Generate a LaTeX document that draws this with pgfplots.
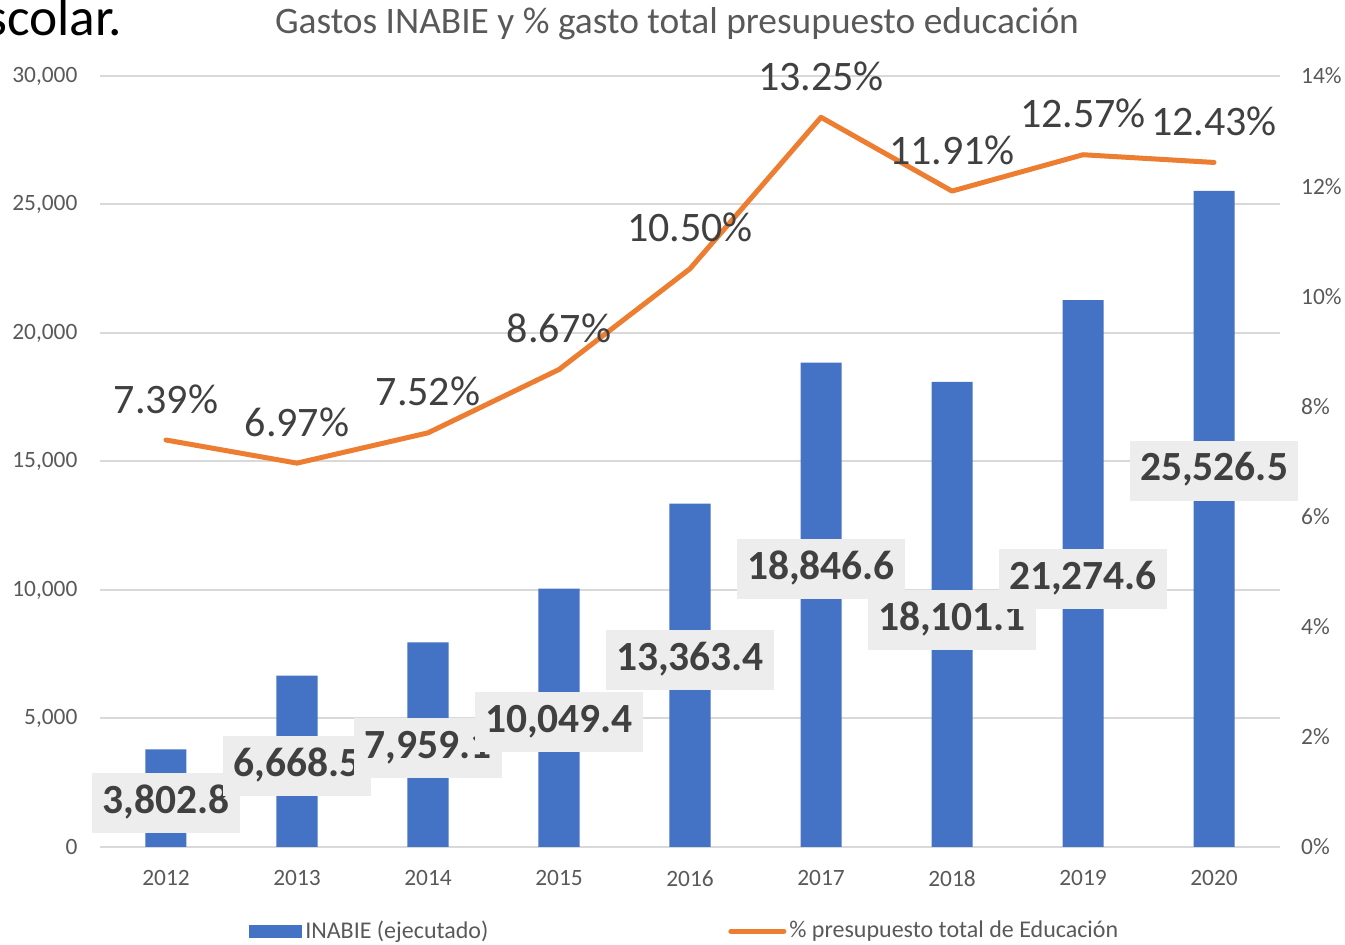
\documentclass[border=0pt]{standalone}
\usepackage{fontspec}
\setmainfont{Carlito}
\usepackage{pgfplots}
\pgfplotsset{compat=1.18}
\definecolor{barblue}{HTML}{4472C4}
\definecolor{lineorange}{HTML}{ED7D31}
\definecolor{gridgray}{HTML}{D9D9D9}
\definecolor{ticktext}{HTML}{595959}
\definecolor{labeltext}{HTML}{404040}
\definecolor{labelbox}{HTML}{EDEDED}

\pgfplotstableread{
x y
0 3802.8
1 6668.5
2 7959.1
3 10049.4
4 13363.4
5 18846.6
6 18101.1
7 21274.6
8 25526.5
}\bardata

% label positions (centre of each value box, in axis units)
\pgfplotstableread{
x y lbl
0 1710 3,802.8
1 3150 6,668.5
2 3850 7,959.1
3 4860 10,049.4
4 7270 13,363.4
5 10810 18,846.6
6 8830 18,101.1
7 10425 21,274.6
8 14630 25,526.5
}\barlabels

\pgfplotstableread{
x y
0 7.39
1 6.97
2 7.52
3 8.67
4 10.50
5 13.25
6 11.91
7 12.57
8 12.43
}\linedata

\begin{document}
\begin{tikzpicture}[x=1pt,y=1pt]
\useasboundingbox (-50.25,-49) rectangle (622.25,423.5);
\begin{axis}[
  at={(0,0)}, anchor=south west,
  width=589.5pt, height=385.5pt, scale only axis,
  xmin=-0.5, xmax=8.5, ymin=0, ymax=30000,
  xtick={0,...,8}, xticklabels={2012,2013,2014,2015,2016,2017,2018,2019,2020},
  ytick={0,5000,...,30000},
  ymajorgrids, grid style={gridgray, line width=1pt},
  axis x line*=bottom, axis y line*=left,
  x axis line style={gridgray, line width=1pt, -},
  y axis line style={draw=none},
  major tick length=0pt,
  /pgf/number format/assume math mode=true,
  /pgf/number format/1000 sep={,},
  scaled y ticks=false,
  tick label style={font=\fontsize{11.7}{14}\selectfont, text=ticktext},
  yticklabel style={xshift=-8pt},
  xticklabel style={yshift=-8.3pt},
  clip=false,
]
\addplot[ybar, bar width=0.313, fill=barblue, draw=none] table {\bardata};
\addplot[draw=none, mark=none, nodes near coords, point meta=explicit symbolic,
  nodes near coords style={anchor=center, fill=labelbox, text=labeltext,
    font=\fontsize{20.75}{24}\selectfont\bfseries, inner xsep=5.25pt, inner ysep=6.5pt,
    text height=13.5pt, text depth=3.5pt}]
  table[meta=lbl] {\barlabels};
\end{axis}
\begin{axis}[
  at={(0,0)}, anchor=south west,
  width=589.5pt, height=385.5pt, scale only axis,
  xmin=-0.5, xmax=8.5, ymin=0, ymax=14,
  axis x line=none, axis y line*=right,
  y axis line style={draw=none},
  ytick={0,2,...,14},
  yticklabel={\pgfmathprintnumber{\tick}\%},
  major tick length=0pt,
  /pgf/number format/assume math mode=true,
  tick label style={font=\fontsize{11.7}{14}\selectfont, text=ticktext},
  yticklabel style={xshift=7.3pt},
  clip=false,
  legend style={draw=none, fill=none, at={(0.126,-0.109)}, anchor=west,
    inner sep=0pt, font=\fontsize{12}{14}\selectfont, text=ticktext,
    /tikz/every even column/.append style={column sep=118.5pt},
    nodes={inner sep=1.5pt}},
  legend columns=2, legend cell align=left,
]
\addlegendimage{legend image code/.code={\fill[barblue] (0pt,-3pt) rectangle (26pt,3pt);}}
\addlegendentry{INABIE (ejecutado)}
\addplot[draw=none, mark=none, forget plot, nodes near coords={\pgfmathprintnumber[fixed,fixed zerofill,precision=2]{\pgfplotspointmeta}\%},
  point meta=y,
  nodes near coords style={anchor=center, yshift=20.5pt, text=labeltext,
    font=\fontsize{21}{24}\selectfont, /pgf/number format/assume math mode=true}]
  table {\linedata};
\addplot[lineorange, line width=2.5pt, mark=none, line cap=round, line join=round,
  legend image code/.code={\draw[lineorange, line width=2.5pt, line cap=round] (0pt,0pt) -- (26.5pt,0pt);}]
  table {\linedata};
\addlegendentry{\% presupuesto total de Educación}
\end{axis}
\node[text=ticktext, font=\fontsize{18.7}{22}\selectfont] at (288.25,411.5) {Gastos INABIE y \% gasto total presupuesto educación};
\node[anchor=base east, inner sep=0pt, font=\fontsize{26.7}{32}\selectfont] at (11.05,405.5) {scolar.};
\end{tikzpicture}
\end{document}
